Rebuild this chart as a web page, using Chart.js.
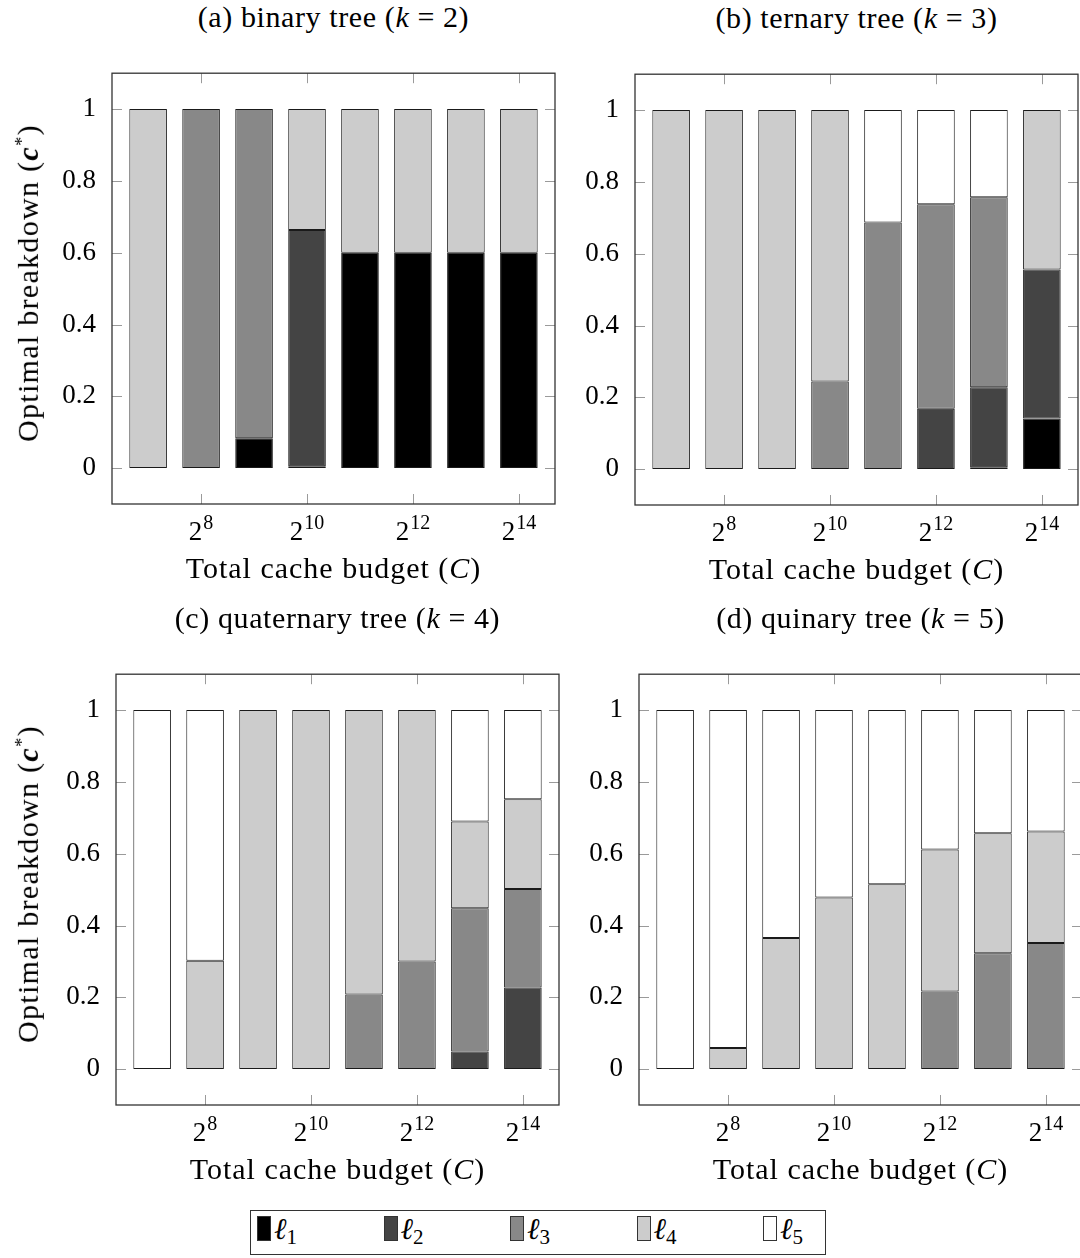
<!DOCTYPE html>
<html>
<head>
<meta charset="utf-8">
<script src="https://cdn.jsdelivr.net/npm/chart.js@4.4.1/dist/chart.umd.min.js"></script>
<style>
  html, body { margin: 0; padding: 0; background: #fff; }
  body { width: 1080px; height: 1258px; position: relative; overflow: hidden;
         font-family: "Liberation Serif", "DejaVu Serif", serif; color: #000; }
  canvas { position: absolute; }
  .txt { position: absolute; white-space: nowrap; line-height: 1; }
  .legend { position: absolute; border: 1.3px solid #333; box-sizing: border-box; }
  .sw { position: absolute; box-sizing: border-box; border: 1px solid #333; }
</style>
</head>
<body>
<script>
// log2 of the total cache budget C for each bar
const budgetExp = [7, 8, 9, 10, 11, 12, 13, 14];
const xTickExp = [8, 10, 12, 14];
const yTickValues = [0, 0.2, 0.4, 0.6, 0.8, 1];
const yTickLabels = ['0', '0.2', '0.4', '0.6', '0.8', '1'];
const levelIndex = ['1', '2', '3', '4', '5'];
const levelColors = ['#000000', '#444444', '#888888', '#cccccc', '#ffffff'];

// (a) binary tree, k = 2
const binaryL1 = [0, 0, 0.083, 0.005, 0.6, 0.6, 0.6, 0.6];
const binaryL2 = [0, 0, 0, 0.658, 0, 0, 0, 0];
const binaryL3 = [0, 1, 0.917, 0, 0, 0, 0, 0];
const binaryL4 = [1, 0, 0, 0.337, 0.4, 0.4, 0.4, 0.4];
const binaryL5 = [0, 0, 0, 0, 0, 0, 0, 0];

// (b) ternary tree, k = 3
const ternaryL1 = [0, 0, 0, 0, 0, 0, 0.005, 0.141];
const ternaryL2 = [0, 0, 0, 0, 0, 0.168, 0.223, 0.415];
const ternaryL3 = [0, 0, 0, 0.244, 0.687, 0.570, 0.529, 0];
const ternaryL4 = [1, 1, 1, 0.756, 0, 0, 0, 0.444];
const ternaryL5 = [0, 0, 0, 0, 0.313, 0.262, 0.243, 0];

// (c) quaternary tree, k = 4
const quaternaryL1 = [0, 0, 0, 0, 0, 0, 0, 0];
const quaternaryL2 = [0, 0, 0, 0, 0, 0, 0.049, 0.227];
const quaternaryL3 = [0, 0, 0, 0, 0.208, 0.300, 0.399, 0.275];
const quaternaryL4 = [0, 0.302, 1, 1, 0.792, 0.700, 0.242, 0.250];
const quaternaryL5 = [1, 0.698, 0, 0, 0, 0, 0.310, 0.248];

// (d) quinary tree, k = 5
const quinaryL1 = [0, 0, 0, 0, 0, 0, 0, 0];
const quinaryL2 = [0, 0, 0, 0, 0, 0, 0, 0];
const quinaryL3 = [0, 0, 0, 0, 0, 0.216, 0.323, 0.351];
const quinaryL4 = [0, 0.059, 0.365, 0.478, 0.515, 0.396, 0.334, 0.311];
const quinaryL5 = [1, 0.941, 0.635, 0.522, 0.485, 0.388, 0.343, 0.338];

const SERIF = '"Liberation Serif", "DejaVu Serif", serif';
const TICK_FS = 27;   // tick label size
const SUP_FS = 20;    // exponent size
const TEXT_FS = 30;   // titles, axis labels, legend
const Y_AXIS_W = 80;  // room for y tick labels inside each canvas
const PAD_TOP = 20, PAD_RIGHT = 2, PAD_BOTTOM = 50;

const panels = [
  { title: '(a) binary tree (<i>k</i> = 2)', left: 112, top: 61, w: 443, h: 443, ylabel: true,
    series: [binaryL1, binaryL2, binaryL3, binaryL4, binaryL5] },
  { title: '(b) ternary tree (<i>k</i> = 3)', left: 635, top: 62, w: 443, h: 443, ylabel: false,
    series: [ternaryL1, ternaryL2, ternaryL3, ternaryL4, ternaryL5] },
  { title: '(c) quaternary tree (<i>k</i> = 4)', left: 116, top: 662, w: 443, h: 443, ylabel: true,
    series: [quaternaryL1, quaternaryL2, quaternaryL3, quaternaryL4, quaternaryL5] },
  { title: '(d) quinary tree (<i>k</i> = 5)', left: 639, top: 662, w: 443, h: 443, ylabel: false,
    series: [quinaryL1, quinaryL2, quinaryL3, quinaryL4, quinaryL5] }
];

// frame, inward tick marks and 2^n tick labels
const framePlugin = {
  id: 'frame',
  afterDraw(chart) {
    const { ctx, chartArea: a, scales: { x, y } } = chart;
    ctx.save();
    ctx.strokeStyle = '#9a9a9a';
    ctx.lineWidth = 1;
    const seg = (x1, y1, x2, y2) => { ctx.beginPath(); ctx.moveTo(x1, y1); ctx.lineTo(x2, y2); ctx.stroke(); };
    yTickValues.forEach(v => {
      const py = Math.round(y.getPixelForValue(v)) + 0.5;
      seg(a.left, py, a.left + 10, py);
      seg(a.right - 10, py, a.right, py);
    });
    xTickExp.forEach(v => {
      const px = Math.round(x.getPixelForValue(v)) + 0.5;
      seg(px, a.top, px, a.top + 10);
      seg(px, a.bottom - 10, px, a.bottom);
    });
    ctx.strokeStyle = '#333';
    ctx.lineWidth = 1.3;
    ctx.strokeRect(a.left, a.top, a.right - a.left, a.bottom - a.top);

    ctx.fillStyle = '#000';
    ctx.textBaseline = 'alphabetic';
    ctx.textAlign = 'left';
    xTickExp.forEach(v => {
      const px = x.getPixelForValue(v);
      ctx.font = TICK_FS + 'px ' + SERIF;
      const wb = ctx.measureText('2').width;
      ctx.font = SUP_FS + 'px ' + SERIF;
      const we = ctx.measureText(String(v)).width;
      const start = px - (wb + 1 + we) / 2;
      const base = a.bottom + 36;
      ctx.font = TICK_FS + 'px ' + SERIF;
      ctx.fillText('2', start, base);
      ctx.font = SUP_FS + 'px ' + SERIF;
      ctx.fillText(String(v), start + wb + 1, base - 11);
    });
    ctx.restore();
  }
};

function addText(html, cx, baseline, size, spacing) {
  const d = document.createElement('div');
  d.className = 'txt';
  d.innerHTML = html;
  d.style.fontSize = size + 'px';
  d.style.letterSpacing = (spacing || 0) + 'px';
  d.style.left = cx + 'px';
  d.style.top = (baseline - 0.84 * size) + 'px';
  d.style.transform = 'translateX(-50%)';
  document.body.appendChild(d);
  return d;
}

panels.forEach(p => {
  const cv = document.createElement('canvas');
  const cw = Y_AXIS_W + p.w + PAD_RIGHT;
  const ch = PAD_TOP + p.h + PAD_BOTTOM;
  cv.width = cw; cv.height = ch;
  cv.style.width = cw + 'px'; cv.style.height = ch + 'px';
  cv.style.left = (p.left - Y_AXIS_W) + 'px';
  cv.style.top = (p.top - PAD_TOP) + 'px';
  document.body.appendChild(cv);

  const datasets = p.series.map((vals, i) => ({
    label: '\u2113' + levelIndex[i],
    data: budgetExp.map((b, j) => ({ x: b, y: vals[j] })),
    backgroundColor: levelColors[i],
    borderColor: '#1a1a1a',
    borderWidth: 1,
    borderSkipped: false,
    barPercentage: 0.71,
    categoryPercentage: 1
  }));

  new Chart(cv, {
    type: 'bar',
    data: { datasets },
    options: {
      responsive: false,
      animation: false,
      devicePixelRatio: 1,
      layout: { padding: { top: PAD_TOP, right: PAD_RIGHT, bottom: PAD_BOTTOM, left: 0 } },
      plugins: { legend: { display: false }, tooltip: { enabled: false }, title: { display: false } },
      scales: {
        x: {
          type: 'linear', stacked: true, offset: false, display: false,
          min: budgetExp[0] - 0.682, max: budgetExp[budgetExp.length - 1] + 0.682
        },
        y: {
          type: 'linear', stacked: true, min: -0.1, max: 1.1,
          grid: { display: false, drawTicks: false },
          border: { display: false },
          afterBuildTicks: s => { s.ticks = yTickValues.map(v => ({ value: v })); },
          afterFit: s => { s.width = Y_AXIS_W; },
          ticks: {
            padding: 16,
            color: '#000',
            font: { family: SERIF, size: TICK_FS },
            callback: v => yTickLabels[yTickValues.indexOf(v)]
          }
        }
      }
    },
    plugins: [framePlugin]
  });

  const cx = p.left + p.w / 2;
  addText(p.title, cx, p.top - 34, TEXT_FS, 0.6);
  addText('Total cache budget (<i>C</i>)', cx, p.top + p.h + 74, TEXT_FS, 1);
  if (p.ylabel) {
    const d = addText('Optimal breakdown (<b><i>c</i></b><sup style="font-size:0.62em;vertical-align:0.55em">*</sup>)',
      0, 0, TEXT_FS, 1.3);
    d.style.left = '28px';
    d.style.top = (p.top + p.h / 2) + 'px';
    d.style.transform = 'translate(-50%, -50%) rotate(-90deg)';
  }
});

// legend
const lg = document.createElement('div');
lg.className = 'legend';
Object.assign(lg.style, { left: '250px', top: '1210px', width: '576px', height: '45px' });
document.body.appendChild(lg);
levelColors.forEach((c, i) => {
  const x0 = 257 + i * 126.5;
  const sw = document.createElement('div');
  sw.className = 'sw';
  Object.assign(sw.style, { left: x0 + 'px', top: '1216px', width: '14px', height: '25px', background: c });
  document.body.appendChild(sw);
  const t = document.createElement('div');
  t.className = 'txt';
  t.innerHTML = '<i>\u2113</i><sub style="font-size:0.7em;vertical-align:-0.25em">' + levelIndex[i] + '</sub>';
  t.style.fontSize = TEXT_FS + 'px';
  t.style.left = (x0 + 17) + 'px';
  t.style.top = (1239 - 0.84 * TEXT_FS) + 'px';
  document.body.appendChild(t);
});
</script>
</body>
</html>
